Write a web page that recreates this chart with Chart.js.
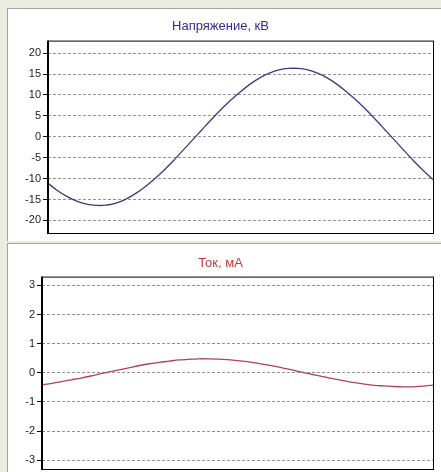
<!DOCTYPE html>
<html>
<head>
<meta charset="utf-8">
<script src="https://cdn.jsdelivr.net/npm/chart.js@4"></script>
<style>
  body { margin: 0; background: #ecebe2; width: 441px; height: 472px; overflow: hidden; position: relative; }
  .panel { position: absolute; left: 7px; width: 434px; background: #fff;
           border-top: 1px solid #a5a49a; border-left: 1px solid #a5a49a; box-sizing: border-box; }
  .panel canvas { display: block; }
</style>
</head>
<body>
<div class="panel" id="p1" style="top:8px;height:233px;"><canvas id="voltChart"></canvas></div>
<div class="panel" id="p2" style="top:243px;height:229px;"><canvas id="curChart"></canvas></div>
<script>
// time, ms
const timeMs = [0, 0.5, 1, 1.5, 2, 2.5, 3, 3.5, 4, 4.5, 5, 5.5, 6, 6.5, 7, 7.5, 8, 8.5, 9, 9.5,
  10, 10.5, 11, 11.5, 12, 12.5, 13, 13.5, 14, 14.5, 15, 15.5, 16, 16.5, 17, 17.5, 18, 18.5, 19, 19.5, 20];

// напряжение, кВ
const voltage = [-11.1, -12.9, -14.3, -15.4, -16.1, -16.4, -16.35, -15.9, -15.0, -13.7, -12.1, -10.2,
  -8.1, -5.8, -3.3, -0.8, 1.7, 4.2, 6.6, 8.8, 10.8, 12.6, 14.1, 15.2, 16.0, 16.35, 16.35, 16.0,
  15.2, 14.1, 12.6, 10.8, 8.8, 6.6, 4.2, 1.7, -0.8, -3.3, -5.8, -8.1, -10.2];

// ток, мА
const current = [-0.41, -0.36, -0.30, -0.24, -0.18, -0.11, -0.03, 0.04, 0.11, 0.18, 0.25, 0.31,
  0.36, 0.40, 0.44, 0.46, 0.48, 0.48, 0.47, 0.45, 0.42, 0.38, 0.33, 0.27, 0.21, 0.14, 0.07, -0.01,
  -0.08, -0.15, -0.22, -0.28, -0.34, -0.39, -0.43, -0.45, -0.47, -0.48, -0.48, -0.46, -0.42];

const voltTicks = [-20, -15, -10, -5, 0, 5, 10, 15, 20];
const curTicks = [-3, -2, -1, 0, 1, 2, 3];

// black frame round the plot, left side heavier
const frame = {
  id: 'frame',
  afterDraw(chart) {
    const a = chart.chartArea, ctx = chart.ctx;
    ctx.save();
    ctx.strokeStyle = '#000';
    ctx.lineWidth = 1;
    ctx.strokeRect(a.left + 0.5, a.top + 0.5, a.right - a.left, a.bottom - a.top);
    ctx.lineWidth = 2;
    ctx.beginPath();
    ctx.moveTo(a.left, a.top);
    ctx.lineTo(a.left, a.bottom + 1);
    ctx.stroke();
    ctx.restore();
  }
};

function makeChart(id, w, h, title, titleColor, lineColor, values, ticks, yMin, yMax, axisW, pad, titlePad) {
  const cv = document.getElementById(id);
  cv.width = w; cv.height = h;
  return new Chart(cv, {
    type: 'line',
    data: {
      labels: timeMs,
      datasets: [{
        data: values,
        borderColor: lineColor,
        borderWidth: 1.3,
        pointRadius: 0,
        tension: 0.3,
        fill: false
      }]
    },
    options: {
      responsive: false,
      animation: false,
      layout: { padding: pad },
      plugins: {
        legend: { display: false },
        tooltip: { enabled: false },
        title: {
          display: true,
          text: title,
          color: titleColor,
          font: { family: 'Liberation Sans, Arial, sans-serif', size: 13, weight: 'normal' },
          padding: titlePad
        }
      },
      scales: {
        x: { display: false },
        y: {
          min: yMin,
          max: yMax,
          afterBuildTicks: (scale) => { scale.ticks = ticks.map(v => ({ value: v })); },
          afterFit: (scale) => {
            scale.width = axisW;
            scale.paddingTop = 0;
            scale.paddingBottom = 0;
          },
          ticks: {
            color: '#222',
            padding: 2,
            font: { family: 'Liberation Sans, Arial, sans-serif', size: 11 }
          },
          grid: { color: '#939393', lineWidth: 1, tickColor: '#000', tickLength: 5 },
          border: { display: false, dash: [3, 2] }
        }
      }
    },
    plugins: [frame]
  });
}

makeChart('voltChart', 433, 232, 'Напряжение, кВ', '#2e2e8e', '#3c3c7c', voltage, voltTicks, -23, 23, 40,
  { left: 0, right: 8, top: 0, bottom: 8 }, { top: 10, bottom: 6 });
makeChart('curChart', 433, 228, 'Ток, мА', '#c23a3a', '#b04450', current, curTicks, -3.3, 3.3, 34,
  { left: 0, right: 8, top: 0, bottom: 3 }, { top: 12, bottom: 5 });
</script>
</body>
</html>
